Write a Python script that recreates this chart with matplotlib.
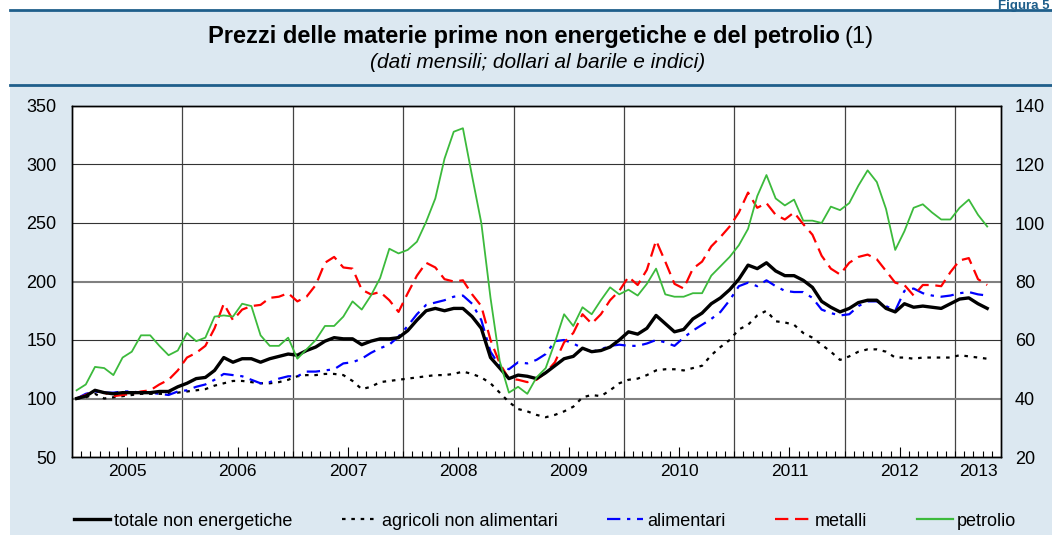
import matplotlib
matplotlib.use('Agg')
import matplotlib.pyplot as plt
from matplotlib.lines import Line2D
import numpy as np

plt.rcParams['font.family'] = ['Liberation Sans', 'DejaVu Sans']

# Dati mensili gen 2005 - apr 2013
anni = ['2005', '2006', '2007', '2008', '2009', '2010', '2011', '2012', '2013']

totale = [100, 102, 107, 105, 104, 105, 105, 105, 105, 106, 106, 110,
          113, 117, 118, 124, 135, 131, 134, 134, 131, 134, 136, 138,
          137, 141, 144, 149, 152, 151, 151, 146, 149, 151, 151, 152,
          158, 167, 175, 177, 175, 177, 177, 170, 160, 135, 126, 117,
          120, 119, 117, 122, 128, 134, 136, 143, 140, 141, 144, 150,
          157, 155, 160, 171, 164, 157, 159, 168, 173, 181, 186, 193,
          202, 214, 211, 216, 209, 205, 205, 201, 195, 183, 178, 174,
          177, 182, 184, 184, 177, 174, 181, 178, 179, 178, 177, 181,
          185, 186, 181, 177]

agricoli = [100, 101, 104, 100, 101, 102, 103, 104, 104, 104, 104, 105,
            106, 107, 108, 111, 113, 115, 115, 114, 113, 113, 114, 116,
            119, 120, 120, 121, 121, 120, 115, 108, 110, 114, 115, 116,
            117, 118, 119, 120, 120, 121, 123, 121, 118, 113, 105, 97,
            91, 89, 86, 84, 86, 89, 93, 101, 103, 102, 107, 113,
            116, 117, 120, 124, 125, 125, 124, 126, 128, 137, 144, 150,
            159, 163, 171, 175, 166, 165, 163, 156, 152, 146, 140, 133,
            136, 140, 142, 142, 140, 135, 135, 134, 135, 135, 135, 135,
            137, 136, 135, 134]

alimentari = [100, 104, 106, 105, 105, 106, 106, 105, 105, 104, 103, 106,
              107, 110, 112, 116, 121, 120, 119, 116, 113, 114, 117, 119,
              119, 123, 123, 124, 125, 130, 131, 134, 139, 143, 146, 153,
              162, 172, 180, 182, 184, 187, 188, 181, 167, 140, 128, 125,
              131, 130, 133, 138, 149, 150, 147, 143, 140, 142, 145, 146,
              145, 145, 147, 150, 148, 145, 152, 158, 163, 168, 174, 184,
              196, 199, 196, 201, 196, 192, 191, 191, 186, 176, 173, 171,
              172, 179, 183, 183, 179, 175, 192, 194, 190, 188, 187, 188,
              190, 191, 189, 188]

metalli = [100, 103, 107, 105, 102, 103, 104, 106, 107, 112, 116, 124,
           135, 139, 145, 160, 181, 167, 176, 179, 180, 186, 187, 190,
           183, 187, 197, 216, 221, 212, 211, 193, 189, 191, 184, 174,
           190, 205, 216, 212, 202, 200, 201, 189, 179, 150, 130, 117,
           116, 114, 116, 122, 131, 148, 156, 172, 164, 172, 184, 192,
           204, 197, 210, 235, 217, 198, 194, 211, 217, 230, 238, 247,
           259, 276, 263, 267, 257, 253, 259, 249, 240, 222, 211, 206,
           216, 221, 223, 219, 209, 199, 197, 188, 197, 197, 196, 208,
           218, 220, 202, 197]

# dollari al barile (scala di destra)
petrolio = [42.8, 44.8, 50.8, 50.4, 48.0, 54.0, 56.0, 61.6, 61.6, 58.0, 54.8, 56.4,
            62.4, 59.6, 60.8, 68.0, 68.4, 68.0, 72.4, 71.6, 61.6, 58.0, 58.0, 60.8,
            53.6, 56.8, 60.0, 64.8, 64.8, 68.0, 73.2, 70.4, 75.2, 81.2, 91.2, 89.6,
            90.8, 93.6, 100.4, 108.4, 122.0, 131.2, 132.4, 116.0, 100.0, 74.4, 52.8, 42.0,
            44.0, 41.6, 47.2, 50.4, 59.2, 68.8, 64.8, 71.2, 68.8, 73.6, 78.0, 75.6,
            77.2, 75.2, 79.2, 84.4, 75.6, 74.8, 74.8, 76.0, 76.0, 82.0, 85.2, 88.4,
            92.4, 98.0, 109.2, 116.4, 108.4, 106.0, 108.0, 100.8, 100.8, 100.0, 105.6, 104.4,
            106.8, 112.8, 118.0, 114.0, 104.8, 90.8, 97.2, 105.2, 106.4, 103.6, 101.2, 101.2,
            105.2, 108.0, 102.8, 98.8]

W, H = 1052, 535
blu = '#1f5f8b'

fig = plt.figure(figsize=(W / 100, H / 100), dpi=100)
fig.patch.set_facecolor('white')

# sfondo azzurro e righe dell'intestazione
sfondo = plt.Rectangle((10 / W, 0), 1, 1 - 10 / H, transform=fig.transFigure,
                       facecolor='#dce8f1', edgecolor='none', zorder=-10)
fig.add_artist(sfondo)
for yy in (10, 85):
    fig.add_artist(Line2D([10 / W, 1], [1 - yy / H] * 2, color=blu, lw=2, zorder=-5))

fig.text(1049 / W, 1 - 0.5 / H, 'Figura 5', ha='right', va='top', fontsize=9.5,
         fontweight='bold', color=blu)

t = fig.text(0.498, 1 - 37 / H, 'Prezzi delle materie prime non energetiche e del petrolio',
             ha='center', va='center', fontsize=17, fontweight='bold')
fig.canvas.draw()
bb = t.get_window_extent()
fig.text((bb.x1 + 5) / W, 1 - 37 / H, '(1)', ha='left', va='center', fontsize=17)
fig.text(0.5115, 1 - 62 / H, '(dati mensili; dollari al barile e indici)', ha='center',
         va='center', fontsize=15, style='italic')

# area del grafico
ax = fig.add_axes([72 / W, 1 - 457 / H, (1001 - 72) / W, (457 - 106) / H])
ax.set_facecolor('white')
ax2 = ax.twinx()

n = len(totale)
x = np.arange(n) + 0.5
ax.plot(x, agricoli, color='black', lw=1.6, ls=(0, (1.6, 2.6)), zorder=3)
ax.plot(x, alimentari, color='#0000ff', lw=1.6, ls=(0, (6, 3, 1.5, 3)), zorder=3)
ax.plot(x, metalli, color='#ff0000', lw=1.6, ls=(0, (6, 3)), zorder=3)
ax.plot(x, totale, color='black', lw=2.4, zorder=4)
ax2.plot(x, petrolio, color='#3cba3c', lw=1.3, zorder=3)

ax.set_xlim(0, 101)
ax.set_ylim(50, 350)
ax2.set_ylim(20, 140)
ax.set_yticks(range(50, 351, 50))
ax2.set_yticks(range(20, 141, 20))

ax.grid(axis='y', color='#333333', lw=0.8, zorder=1)
for val, gl in zip(ax.get_yticks(), ax.get_ygridlines()):
    if val in (100, 200):
        gl.set_color('#808080')
        gl.set_linewidth(1.5)

inizi = np.arange(12, 97, 12)
for b in inizi:
    ax.axvline(b, color='#444444', lw=0.9, zorder=1)

pos_anni = list(np.arange(6, 96, 12)) + [98.5]
ax.set_xticks(pos_anni)
ax.set_xticklabels(anni)
ax.set_xticks(np.arange(1, 101), minor=True)
ax.tick_params(axis='x', which='major', length=0, pad=5, labelsize=12.5)
ax.tick_params(axis='x', which='minor', direction='in', length=4, width=0.8)
ax.tick_params(axis='y', length=0, pad=11, labelsize=13)
ax2.tick_params(axis='y', length=0, pad=10, labelsize=13)

sec = ax.secondary_xaxis('bottom')
sec.set_xticks(np.arange(6, 96, 12))
sec.tick_params(direction='in', length=7, width=0.8, labelbottom=False)
sec.spines['bottom'].set_visible(False)

for s in list(ax.spines.values()) + list(ax2.spines.values()):
    s.set_linewidth(1.0)
    s.set_color('black')

handles = [Line2D([], [], color='black', lw=2.4),
           Line2D([], [], color='black', lw=1.6, ls=(0, (1.6, 2.6))),
           Line2D([], [], color='#0000ff', lw=1.6, ls=(0, (6, 3, 1.5, 3))),
           Line2D([], [], color='#ff0000', lw=1.6, ls=(0, (6, 3))),
           Line2D([], [], color='#3cba3c', lw=1.6)]
labels = ['totale non energetiche', 'agricoli non alimentari', 'alimentari', 'metalli', 'petrolio']
fig.legend(handles, labels, ncol=5, loc='center', bbox_to_anchor=(0.518, 1 - 521 / H),
           frameon=False, fontsize=13, handlelength=2.0, columnspacing=2.75, handletextpad=0.2)

fig.savefig('out.png', dpi=100, facecolor=fig.get_facecolor())
